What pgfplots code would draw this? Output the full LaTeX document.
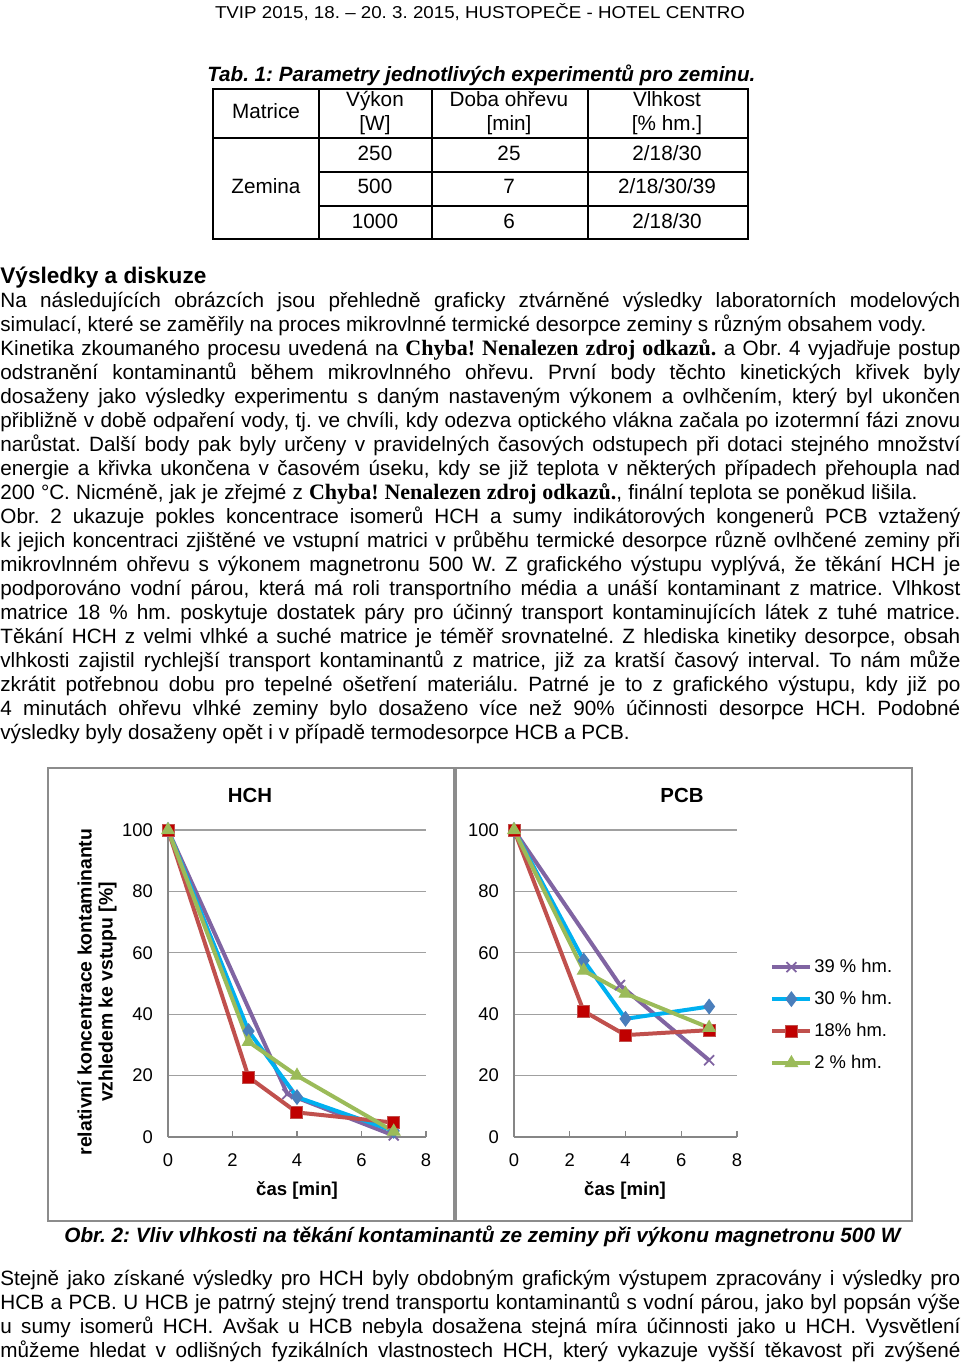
\documentclass[border=0pt]{standalone}
\usepackage{fontspec}
\setmainfont{Liberation Sans}
\newfontfamily\serifb{Liberation Serif}
\usepackage{graphicx}
\usepackage{pgfplots}
\pgfplotsset{compat=1.18}
\frenchspacing

\definecolor{cpurple}{RGB}{128,100,162}
\definecolor{ccyan}{RGB}{0,176,240}
\definecolor{cdiam}{RGB}{74,126,187}
\definecolor{cred}{RGB}{192,80,77}
\definecolor{csq}{RGB}{192,0,0}
\definecolor{cgreen}{RGB}{155,187,89}
\definecolor{axisgray}{RGB}{134,134,134}
\definecolor{gridgray}{RGB}{160,160,160}
\definecolor{framegray}{RGB}{140,140,140}

\newcommand{\J}[2]{\node[anchor=base west,inner sep=0pt] at (0,-#1) {\makebox[480pt][s]{#2}};}
\newcommand{\W}[3]{\node[anchor=base west,inner sep=0pt] at (0,-#1) {\makebox[#2][s]{#3}};}
\newcommand{\N}[2]{\node[anchor=base west,inner sep=0pt] at (0,-#1) {#2};}
\newcommand{\chyba}{{\serifb\fontsize{11}{12}\selectfont\bfseries Chyba! Nenalezen zdroj odkazů.}}

\pgfplotsset{panel/.style={
  scale only axis, height=153.5pt,
  xmin=0, xmax=8, ymin=0, ymax=100,
  xtick={0,2,4,6,8}, ytick={0,20,40,60,80,100},
  axis x line=bottom, axis y line=left,
  axis line style={-, draw=axisgray, line width=0.6pt},
  ymajorgrids, major grid style={draw=gridgray, line width=0.6pt},
  tick align=inside, major tick length=3pt,
  ytick style={draw=none}, xtick style={draw=axisgray, line width=0.6pt},
  /pgf/number format/assume math mode=true,
  tick label style={font=\fontsize{9.2}{10}\selectfont},
  y tick label style={xshift=-4pt},
  x tick label style={yshift=-5pt},
  clip=false,
  legend cell align=left,
}}

\begin{document}
\begin{tikzpicture}[x=0.5pt,y=0.5pt,font=\fontsize{10.35}{12}\selectfont]
\useasboundingbox (0,0) rectangle (960,-1364);

% header
\node[anchor=base,inner sep=0pt] at (480,-19) {\fontsize{8.6}{10}\selectfont\resizebox{265pt}{\height}{TVIP 2015, 18. – 20. 3. 2015, HUSTOPEČE - HOTEL CENTRO}};

% table caption
\node[anchor=base west,inner sep=0pt] at (207,-82) {\bfseries\itshape\resizebox{274pt}{\height}{Tab. 1: Parametry jednotlivých experimentů pro zeminu.}};

% table
\draw[line width=0.6pt] (213,-89) rectangle (748,-239);
\draw[line width=0.6pt] (319,-89) -- (319,-239) (432,-89) -- (432,-239) (588,-89) -- (588,-239);
\draw[line width=0.6pt] (213,-138) -- (748,-138) (319,-172) -- (748,-172) (319,-206) -- (748,-206);
\node[anchor=base,inner sep=0pt] at (266,-119) {Matrice};
\node[anchor=base,inner sep=0pt] at (375,-107) {Výkon};
\node[anchor=base,inner sep=0pt] at (375,-131) {[W]};
\node[anchor=base,inner sep=0pt] at (509,-107) {Doba ohřevu};
\node[anchor=base,inner sep=0pt] at (509,-131) {[min]};
\node[anchor=base,inner sep=0pt] at (667,-107) {Vlhkost};
\node[anchor=base,inner sep=0pt] at (667,-131) {[\% hm.]};
\node[anchor=base,inner sep=0pt] at (375,-161) {250};
\node[anchor=base,inner sep=0pt] at (509,-161) {25};
\node[anchor=base,inner sep=0pt] at (667,-161) {2/18/30};
\node[anchor=base,inner sep=0pt] at (266,-194) {Zemina};
\node[anchor=base,inner sep=0pt] at (375,-194) {500};
\node[anchor=base,inner sep=0pt] at (509,-194) {7};
\node[anchor=base,inner sep=0pt] at (667,-194) {2/18/30/39};
\node[anchor=base,inner sep=0pt] at (375,-228) {1000};
\node[anchor=base,inner sep=0pt] at (509,-228) {6};
\node[anchor=base,inner sep=0pt] at (667,-228) {2/18/30};

% heading
\node[anchor=base west,inner sep=0pt] at (0,-283) {\fontsize{11.3}{13}\selectfont\bfseries Výsledky a diskuze};

% paragraph
\J{307}{Na následujících obrázcích jsou přehledně graficky ztvárněné výsledky laboratorních modelových}
\W{331}{463pt}{simulací, které se zaměřily na proces mikrovlnné termické desorpce zeminy s různým obsahem vody.}
\J{355}{Kinetika zkoumaného procesu uvedená na \chyba{} a Obr. 4 vyjadřuje postup}
\J{379}{odstranění kontaminantů během mikrovlnného ohřevu. První body těchto kinetických křivek byly}
\J{403}{dosaženy jako výsledky experimentu s daným nastaveným výkonem a~ovlhčením, který byl ukončen}
\J{427}{přibližně v době odpaření vody, tj. ve chvíli, kdy odezva optického vlákna začala po izotermní fázi znovu}
\J{451}{narůstat. Další body pak byly určeny v pravidelných časových odstupech při dotaci stejného množství}
\J{475}{energie a křivka ukončena v časovém úseku, kdy se již teplota v některých případech přehoupla nad}
\W{499}{458.5pt}{200 °C. Nicméně, jak je zřejmé z \chyba, finální teplota se poněkud lišila.}
\J{523}{Obr. 2 ukazuje pokles koncentrace isomerů HCH a sumy indikátorových kongenerů PCB vztažený}
\J{547}{k~jejich koncentraci zjištěné ve vstupní matrici v průběhu termické desorpce různě ovlhčené zeminy při}
\J{571}{mikrovlnném ohřevu s výkonem magnetronu 500 W. Z~grafického výstupu vyplývá, že těkání HCH je}
\J{595}{podporováno vodní párou, která má roli transportního média a unáší kontaminant z~matrice. Vlhkost}
\J{619}{matrice 18 \% hm. poskytuje dostatek páry pro účinný transport kontaminujících látek z tuhé matrice.}
\J{643}{Těkání HCH z velmi vlhké a suché matrice je téměř srovnatelné. Z hlediska kinetiky desorpce, obsah}
\J{667}{vlhkosti zajistil rychlejší transport kontaminantů z~matrice, již za kratší časový interval. To nám může}
\J{691}{zkrátit potřebnou dobu pro tepelné ošetření materiálu. Patrné je to z~grafického výstupu, kdy již po}
\J{715}{4~minutách ohřevu vlhké zeminy bylo dosaženo více než 90\% účinnosti desorpce HCH. Podobné}
\N{739}{výsledky byly dosaženy opět i v případě termodesorpce HCB a PCB.}

% chart frames
\draw[framegray, line width=0.8pt] (48,-768) rectangle (454,-1221);
\draw[framegray, line width=0.8pt] (456,-768) rectangle (912,-1221);

% HCH panel
\begin{axis}[panel, width=129pt, at={(84pt,-568.5pt)}, anchor=south west]
\addplot[color=cpurple, line width=2pt, mark=x, mark size=3.5pt, mark options={line width=0.9pt}] coordinates {(0,100) (3.7,14) (7,0.5)};
\addplot[color=ccyan, line width=2pt, mark=diamond*, mark size=3.6pt, mark options={fill=cdiam, draw=cdiam, line width=0.5pt}] coordinates {(0,100) (2.5,34.5) (4,13) (7,2)};
\addplot[color=cred, line width=2pt, mark=square*, mark size=3pt, mark options={fill=csq, draw=cred, line width=0.5pt}] coordinates {(0,100) (2.5,19.5) (4,8) (7,4.7)};
\addplot[color=cgreen, line width=2pt, mark=triangle*, mark size=3.6pt, mark options={fill=cgreen, draw=cgreen, line width=0.5pt}] coordinates {(0,100) (2.5,31) (4,20) (7,1.8)};
\end{axis}

% PCB panel
\begin{axis}[panel, width=111.5pt, at={(257pt,-568.5pt)}, anchor=south west,
  legend style={at={(1.148,0.397)}, anchor=west, draw=none, fill=none, inner sep=0pt,
    row sep=5pt, font=\fontsize{9.2}{10}\selectfont,
    nodes={inner sep=1pt, text height=7pt, text depth=2pt}},
  legend image code/.code={\draw[mark repeat=2,mark phase=2] plot coordinates {(0pt,0pt) (9.5pt,0pt) (19pt,0pt)};}]
\addplot[color=cpurple, line width=2pt, mark=x, mark size=3.5pt, mark options={line width=0.9pt}] coordinates {(0,100) (3.8,49.5) (7,25)};
\addlegendentry{39 \% hm.}
\addplot[color=ccyan, line width=2pt, mark=diamond*, mark size=3.6pt, mark options={fill=cdiam, draw=cdiam, line width=0.5pt}] coordinates {(0,100) (2.5,57.5) (4,38.5) (7,42.5)};
\addlegendentry{30 \% hm.}
\addplot[color=cred, line width=2pt, mark=square*, mark size=3pt, mark options={fill=csq, draw=cred, line width=0.5pt}] coordinates {(0,100) (2.5,41) (4,33.2) (7,34.8)};
\addlegendentry{18\% hm.}
\addplot[color=cgreen, line width=2pt, mark=triangle*, mark size=3.6pt, mark options={fill=cgreen, draw=cgreen, line width=0.5pt}] coordinates {(0,100) (2.5,54.2) (4,46.7) (7,35.6)};
\addlegendentry{2 \% hm.}
\end{axis}

% chart titles and labels
\node[anchor=base,inner sep=0pt] at (250,-802) {\fontsize{10.2}{12}\selectfont\bfseries HCH};
\node[anchor=base,inner sep=0pt] at (682,-802) {\fontsize{10.2}{12}\selectfont\bfseries PCB};
\node[anchor=base,inner sep=0pt] at (297,-1195) {\fontsize{9.3}{11}\selectfont\bfseries čas [min]};
\node[anchor=base,inner sep=0pt] at (625,-1195) {\fontsize{9.3}{11}\selectfont\bfseries čas [min]};
\node[rotate=90, align=center, inner sep=0pt, font=\fontsize{9.7}{10.5}\selectfont\bfseries] at (97,-992) {relativní koncentrace kontaminantu\\vzhledem ke vstupu [\%]};

% figure caption
\node[anchor=base west,inner sep=0pt] at (64,-1242) {\bfseries\itshape\resizebox{418pt}{\height}{Obr. 2: Vliv vlhkosti na těkání kontaminantů ze zeminy při výkonu magnetronu 500 W}};

% following text
\J{1285}{Stejně jako získané výsledky pro HCH byly obdobným grafickým výstupem zpracovány i výsledky pro}
\J{1309}{HCB a PCB. U HCB je patrný stejný trend transportu kontaminantů s vodní párou, jako byl popsán výše}
\J{1333}{u sumy isomerů HCH. Avšak u HCB nebyla dosažena stejná míra účinnosti jako u HCH. Vysvětlení}
\J{1357}{můžeme hledat v odlišných fyzikálních vlastnostech HCH, který vykazuje vyšší těkavost při zvýšené}
\end{tikzpicture}
\end{document}
